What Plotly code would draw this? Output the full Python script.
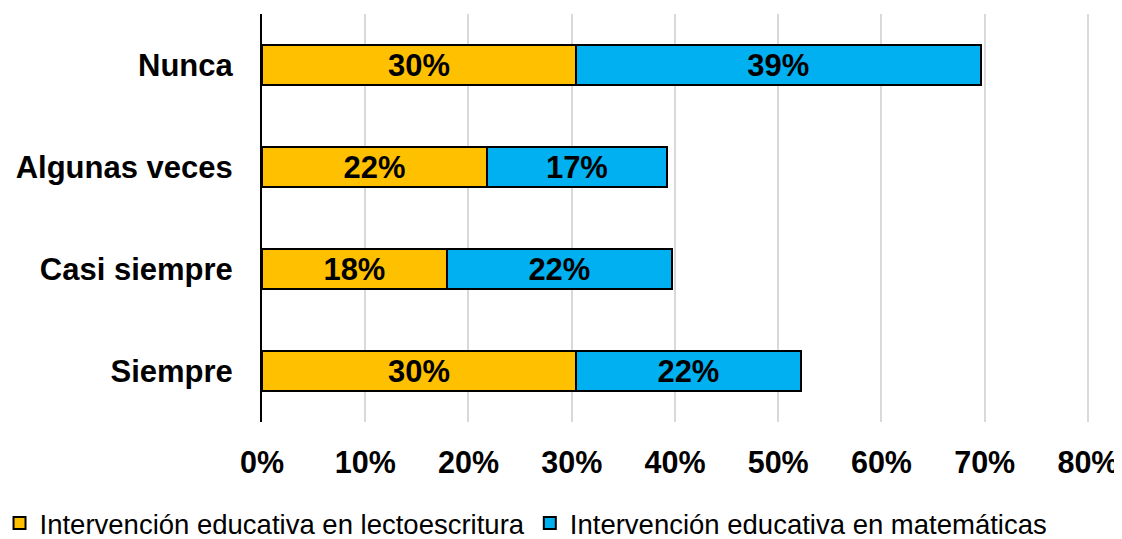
import plotly.graph_objects as go

# ── Datos ───────────────────────────────────────────────────────────────────
categorias = ["Nunca", "Algunas veces", "Casi siempre", "Siempre"]
lectoescritura = [0.304, 0.218, 0.179, 0.304]
matematicas = [0.392, 0.174, 0.218, 0.218]

nombre_lecto = "Intervención educativa en lectoescritura"
nombre_mate = "Intervención educativa en matemáticas"

FUENTE = "Liberation Sans, Arial, sans-serif"

fig = go.Figure()

for nombre, valores, color in [
  (nombre_lecto, lectoescritura, "#FFC000"),
  (nombre_mate, matematicas, "#00B0F0"),
]:
  fig.add_trace(go.Bar(
    y=categorias, x=valores, name=nombre, orientation="h",
    marker=dict(color=color, line=dict(color="black", width=2)),
    texttemplate="%{x:.0%}", textposition="inside",
    insidetextanchor="middle",
    textfont=dict(family=FUENTE, size=32, color="black", weight="bold"),
  ))

# la página deja 8 px de margen al cuerpo: figura algo más pequeña
fig.update_layout(
  barmode="stack", bargap=0.6,
  width=1114, height=531,
  plot_bgcolor="white", paper_bgcolor="white",
  margin=dict(l=254, r=32, t=6, b=117, autoexpand=False),
  font=dict(family=FUENTE, color="black"),
  showlegend=True,
  legend=dict(
    orientation="h", x=-0.317, xanchor="left", y=-0.248, yanchor="middle",
    font=dict(size=27.5, color="black"), traceorder="normal",
    itemwidth=30, tracegroupgap=0,
  ),
  uniformtext=dict(minsize=30, mode="show"),
)

fig.update_xaxes(
  # un poco más que 80% para que se dibuje la última línea de rejilla
  range=[0, 0.802], tickvals=[i / 10 for i in range(9)], tickformat=".0%",
  showgrid=True, gridcolor="#D9D9D9", gridwidth=2,
  zeroline=False, showline=False, automargin=False,
  tickfont=dict(size=30.5, weight="bold"),
  ticklabelstandoff=19,
)
fig.update_yaxes(
  categoryorder="array", categoryarray=categorias[::-1],
  showline=True, linecolor="black", linewidth=2,
  showgrid=False, zeroline=False, automargin=False,
  tickfont=dict(size=31, weight="bold"),
  ticklabelstandoff=21,
)

fig.write_html("out.html")
